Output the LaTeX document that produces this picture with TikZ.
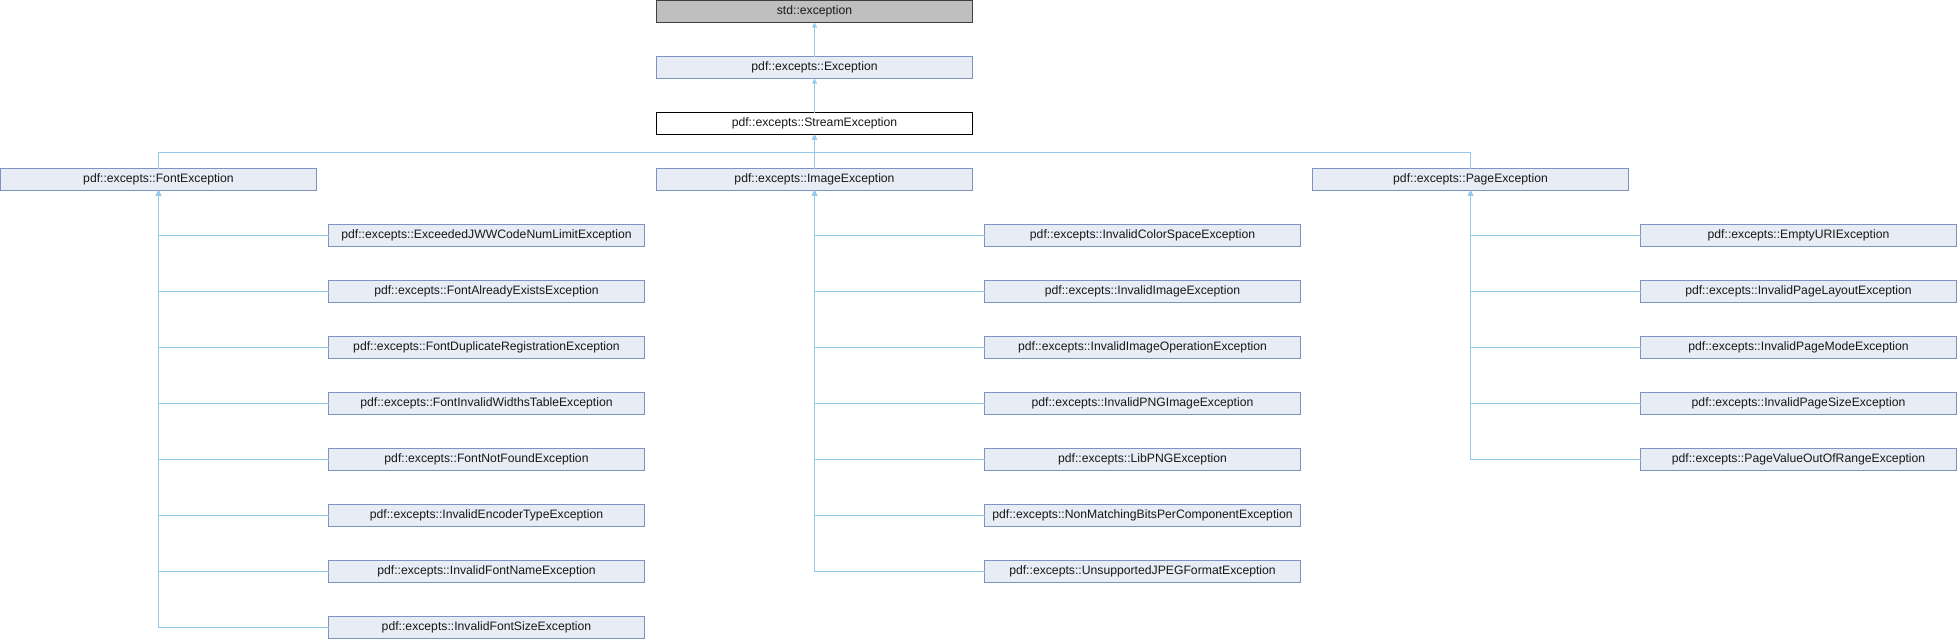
\documentclass[tikz,border=0pt]{standalone}
\usepackage{fontspec}
\setmainfont{Liberation Sans}
\usetikzlibrary{arrows.meta}
\definecolor{edgec}{RGB}{150,201,236}
\definecolor{boxfill}{RGB}{232,236,245}
\definecolor{boxline}{RGB}{125,147,196}
\definecolor{basefill}{RGB}{191,191,191}
\begin{document}
\begin{tikzpicture}[x=1pt,y=-1pt,
  cls/.style={draw=boxline, fill=boxfill, line width=1pt, minimum width=316pt, minimum height=22pt,
    inner sep=0pt, outer sep=0pt, font=\fontsize{12.2}{14}\selectfont, text=black!90},
  edge/.style={draw=edgec, line width=1pt, -{Triangle[width=5pt,length=5pt]}}]
\useasboundingbox (0,0) rectangle (1958,640);
\node[cls, fill=basefill, draw=black!75] (std) at (814.5,11.5) {std::exception};
\node[cls] (exc) at (814.5,67.5) {pdf::excepts::Exception};
\node[cls, fill=white, draw=black] (stream) at (814.5,123.5) {pdf::excepts::StreamException};
\node[cls] (font) at (158.5,179.5) {pdf::excepts::FontException};
\node[cls] (image) at (814.5,179.5) {pdf::excepts::ImageException};
\node[cls] (page) at (1470.5,179.5) {pdf::excepts::PageException};
\coordinate (bus) at (814.5,152);
\draw[edge] (exc) -- (std);
\draw[edge] (stream) -- (exc);
\draw[edge] (image) -- (stream);
\draw[edge] (font.north) |- (bus) -- (stream.south);
\draw[edge] (page.north) |- (bus) -- (stream.south);
\foreach \t [count=\i] in {ExceededJWWCodeNumLimitException, FontAlreadyExistsException,
  FontDuplicateRegistrationException, FontInvalidWidthsTableException, FontNotFoundException,
  InvalidEncoderTypeException, InvalidFontNameException, InvalidFontSizeException} {
  \node[cls] (f\i) at (486.5,{56*(\i+3)+11.5}) {pdf::excepts::\t};
  \draw[edge] (f\i.west) -| (font.south);
}
\foreach \t [count=\i] in {InvalidColorSpaceException, InvalidImageException,
  InvalidImageOperationException, InvalidPNGImageException, LibPNGException,
  NonMatchingBitsPerComponentException, UnsupportedJPEGFormatException} {
  \node[cls] (m\i) at (1142.5,{56*(\i+3)+11.5}) {pdf::excepts::\t};
  \draw[edge] (m\i.west) -| (image.south);
}
\foreach \t [count=\i] in {EmptyURIException, InvalidPageLayoutException,
  InvalidPageModeException, InvalidPageSizeException, PageValueOutOfRangeException} {
  \node[cls] (p\i) at (1798.5,{56*(\i+3)+11.5}) {pdf::excepts::\t};
  \draw[edge] (p\i.west) -| (page.south);
}
\end{tikzpicture}
\end{document}
